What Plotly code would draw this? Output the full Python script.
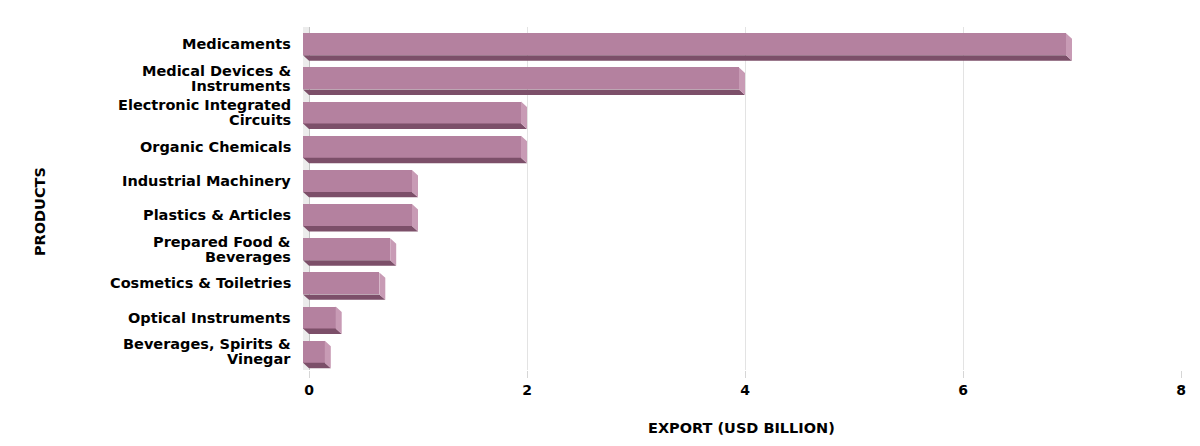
import plotly.graph_objects as go

# data
products = [
    "Medicaments",
    "Medical Devices &<br>Instruments",
    "Electronic Integrated<br>Circuits",
    "Organic Chemicals",
    "Industrial Machinery",
    "Plastics & Articles",
    "Prepared Food &<br>Beverages",
    "Cosmetics & Toiletries",
    "Optical Instruments",
    "Beverages, Spirits &<br>Vinegar",
]
export_usd_bn = [7, 4, 2, 2, 1, 1, 0.8, 0.7, 0.3, 0.2]
x_ticks = [0, 2, 4, 6, 8]

# style
front_color = "#b4819f"
bottom_color = "#7c4f69"
side_color = "#c89bb5"
wall_color = "#ececec"
grid_color = "#e3e3e3"
font_family = "DejaVu Sans"

depth_x = 0.055   # 3d depth along x (data units, ~6px)
depth_y = 0.16    # 3d depth along y (category units, ~5.5px)
half_h = 0.322    # half height of the bar front face

pos = list(range(len(products)))

fig = go.Figure()

# front faces
fig.add_trace(go.Bar(
    y=pos, x=export_usd_bn, base=-depth_x, orientation="h",
    width=half_h * 2, marker=dict(color=front_color, line=dict(width=0)),
    hoverinfo="skip", showlegend=False))

# bottom faces
bx, by = [], []
for p, v in zip(pos, export_usd_bn):
    bx += [-depth_x, v - depth_x, v, 0, -depth_x, None]
    by += [p + half_h, p + half_h, p + half_h + depth_y, p + half_h + depth_y, p + half_h, None]
fig.add_trace(go.Scatter(x=bx, y=by, mode="lines", fill="toself", fillcolor=bottom_color,
                         line=dict(width=0), hoverinfo="skip", showlegend=False))

# side faces
sx, sy = [], []
for p, v in zip(pos, export_usd_bn):
    sx += [v - depth_x, v, v, v - depth_x, v - depth_x, None]
    sy += [p - half_h, p - half_h + depth_y, p + half_h + depth_y, p + half_h, p - half_h, None]
fig.add_trace(go.Scatter(x=sx, y=sy, mode="lines", fill="toself", fillcolor=side_color,
                         line=dict(width=0), hoverinfo="skip", showlegend=False))

# left wall
fig.add_shape(type="rect", xref="x", yref="paper", x0=-depth_x, x1=0, y0=0, y1=1,
              fillcolor=wall_color, line=dict(width=0), layer="below")

# category labels, one annotation per line for tight line spacing
for p, name in zip(pos, products):
    lines = name.split("<br>")
    n = len(lines)
    for k, line in enumerate(lines):
        fig.add_annotation(
            text=line, xref="paper", yref="y", x=-0.0114, y=p,
            xanchor="right", yanchor="middle", showarrow=False,
            yshift=(n - 1) * 7.5 - k * 15,
            font=dict(family=font_family, size=14.5, color="#000000", weight="bold"))

# axis titles
fig.add_annotation(text="EXPORT (USD BILLION)", xref="paper", yref="paper", x=0.499, y=-0.169,
                   xanchor="center", yanchor="middle", showarrow=False,
                   font=dict(family=font_family, size=14.5, color="#000000", weight="bold"))
fig.add_annotation(text="PRODUCTS", xref="paper", yref="paper", x=-0.2995, y=0.4606,
                   xanchor="center", yanchor="middle", showarrow=False, textangle=-90,
                   font=dict(family=font_family, size=14.5, color="#000000", weight="bold"))

# page body has an 8px margin, so the figure is 8px smaller on each side
fig.update_layout(
    width=1192, height=438,
    margin=dict(l=295, r=19, t=19, b=76, autoexpand=False),
    paper_bgcolor="#ffffff", plot_bgcolor="#ffffff",
    bargap=0, showlegend=False,
    font=dict(family=font_family, size=14, color="#000000"),
)
fig.update_xaxes(
    range=[-depth_x, 8], tickvals=x_ticks, showgrid=True, gridcolor=grid_color, gridwidth=1,
    zeroline=True, zerolinecolor="#c4c4c4", zerolinewidth=1,
    ticks="outside", ticklen=7, tickcolor="#d6d6d6",
    tickfont=dict(family=font_family, size=14, color="#000000", weight="bold"),
    showline=False, fixedrange=True)
fig.update_yaxes(
    range=[9.536, -0.506], showticklabels=False, showgrid=False, zeroline=False,
    showline=False, ticks="", fixedrange=True)

fig.write_html("out.html")
